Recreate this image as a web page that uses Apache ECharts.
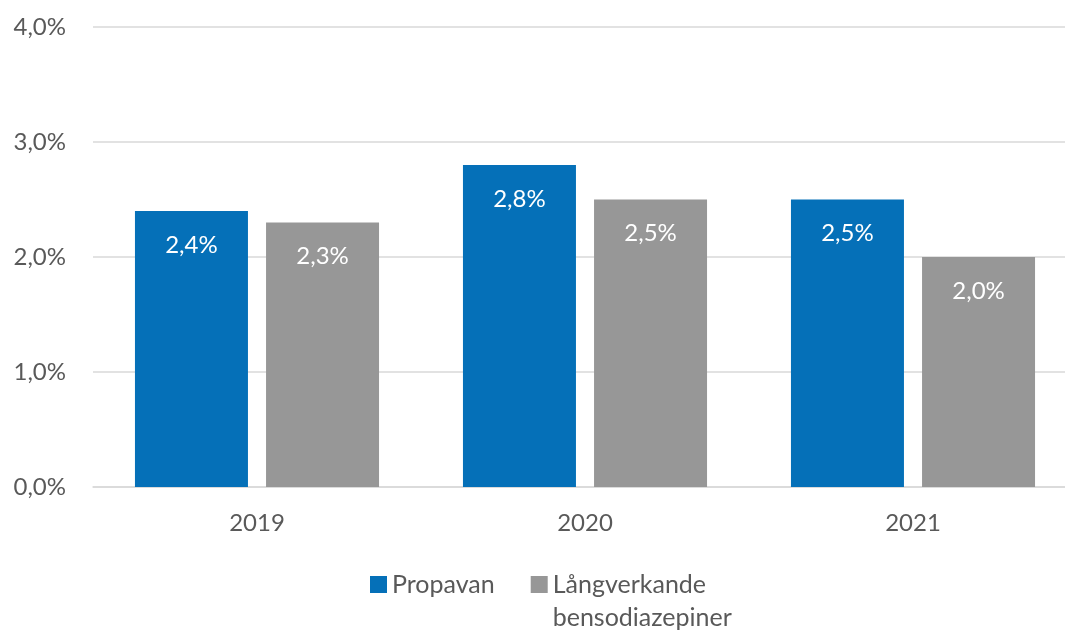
<!DOCTYPE html>
<html>
<head>
<meta charset="utf-8">
<script src="https://cdn.jsdelivr.net/npm/echarts@6/dist/echarts.min.js"></script>
<style>
  html, body { margin: 0; padding: 0; background: #fff; overflow: hidden; }
  #chart { width: 1077px; height: 633px; }
</style>
</head>
<body>
<div id="chart"></div>
<script>
var years = ['2019', '2020', '2021'];
var propavan = [2.4, 2.8, 2.5];
var bensodiazepiner = [2.3, 2.5, 2.0];
var seriesNames = ['Propavan', 'Långverkande bensodiazepiner'];
// legend text, padded with blank lines so the square sits by the first line
var legendText = {
    'Propavan': ' \nPropavan\n ',
    'Långverkande bensodiazepiner': ' \nLångverkande\nbensodiazepiner'
};

var fontFamily = 'Lato, "Open Sans", sans-serif';

function pct(v) {
    return v.toFixed(1).replace('.', ',') + '%';
}

var chart = echarts.init(document.getElementById('chart'));
var option = {
    backgroundColor: '#fff',
    animation: false,
    textStyle: { fontFamily: fontFamily },
    grid: {
        left: 93,
        top: 27,
        right: 0,
        bottom: 146
    },
    legend: {
        top: 530,
        left: 365,
        itemWidth: 17,
        itemHeight: 17,
        itemGap: 36,
        icon: 'rect',
        textStyle: { fontSize: 25, color: '#595959', fontFamily: fontFamily, lineHeight: 33 },
        formatter: function (name) { return legendText[name]; },
        data: seriesNames
    },
    xAxis: {
        type: 'category',
        data: years,
        axisLine: { lineStyle: { color: '#D9D9D9', width: 1.5 } },
        axisTick: { show: false },
        axisLabel: { fontSize: 24, color: '#595959', margin: 24, fontFamily: fontFamily }
    },
    yAxis: {
        type: 'value',
        min: 0,
        max: 4,
        interval: 1,
        axisLine: { show: false },
        axisTick: { show: false },
        splitLine: { lineStyle: { color: '#D9D9D9', width: 1.5 } },
        axisLabel: {
            fontSize: 24, color: '#595959', margin: 27, fontFamily: fontFamily,
            formatter: function (v) { return pct(v); }
        }
    },
    series: [
        {
            name: seriesNames[0],
            type: 'bar',
            data: propavan,
            barWidth: 113,
            barGap: '16%',
            itemStyle: { color: '#0570B8' },
            label: {
                show: true, position: 'insideTop', distance: 22,
                color: '#fff', fontSize: 24, fontFamily: fontFamily,
                formatter: function (p) { return pct(p.value); }
            }
        },
        {
            name: seriesNames[1],
            type: 'bar',
            data: bensodiazepiner,
            barWidth: 113,
            barGap: '16%',
            itemStyle: { color: '#979797' },
            label: {
                show: true, position: 'insideTop', distance: 22,
                color: '#fff', fontSize: 24, fontFamily: fontFamily,
                formatter: function (p) { return pct(p.value); }
            }
        }
    ]
};
chart.setOption(option);
</script>
</body>
</html>
